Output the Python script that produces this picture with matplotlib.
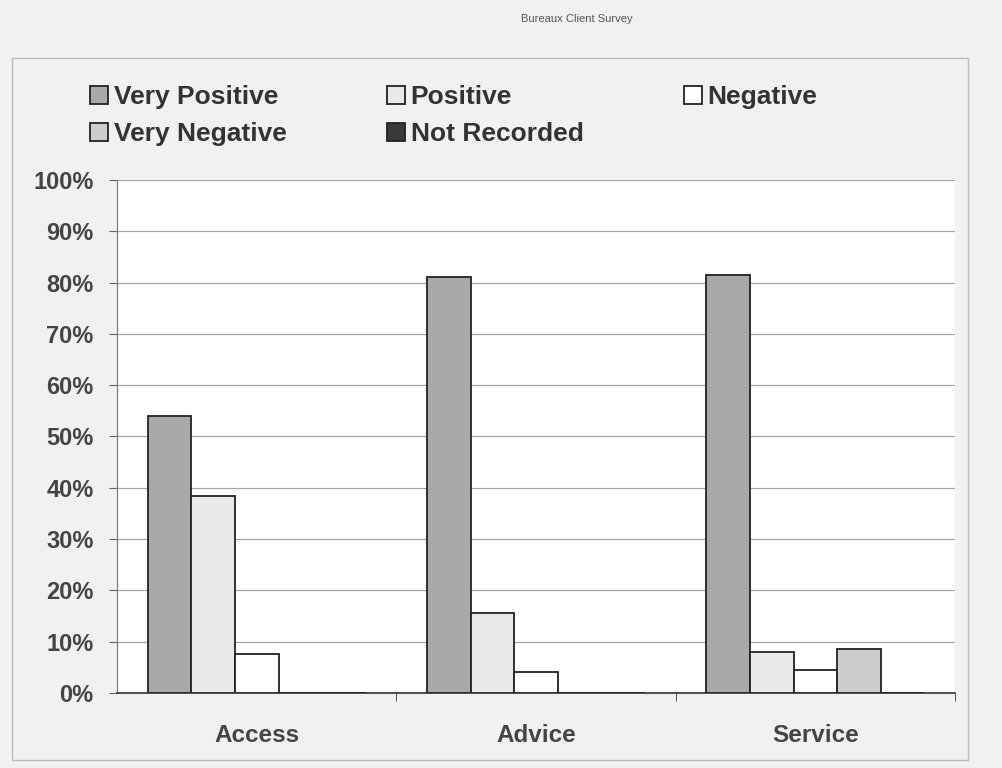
import matplotlib
matplotlib.use('Agg')
import matplotlib.pyplot as plt
import numpy as np

categories = ['Access', 'Advice', 'Service']
series = ['Very Positive', 'Positive', 'Negative', 'Very Negative', 'Not Recorded']
very_positive = [54, 81, 81.5]
positive = [38.3, 15.5, 8]
negative = [7.5, 4, 4.5]
very_negative = [0, 0, 8.5]
not_recorded = [0, 0, 0]
values = [very_positive, positive, negative, very_negative, not_recorded]
colors = ['#a9a9a9', '#e9e9e9', '#ffffff', '#cdcdcd', '#3a3a3a']
yticks = [0, 10, 20, 30, 40, 50, 60, 70, 80, 90, 100]

plt.rcParams['font.family'] = ['Liberation Sans', 'DejaVu Sans']

fig = plt.figure(figsize=(10.03, 7.68), dpi=100, facecolor='#f1f1f1')
ax = fig.add_axes([0.1167, 0.0977, 0.8355, 0.668])
ax.set_facecolor('white')

x = np.arange(len(categories))
w = 0.156
handles = []
for i, vals in enumerate(values):
    b = ax.bar(x + (i - 2) * w, vals, w, color=colors[i], edgecolor='#222222',
               linewidth=1.3, label=series[i], zorder=3)
    handles.append(b)

ax.set_xlim(-0.5, 2.5)
ax.set_ylim(0, 100)
ax.set_yticks(yticks)
ax.set_yticklabels([str(t) + '%' for t in yticks], fontsize=17, fontweight='bold', color='#444444')
ax.yaxis.grid(True, color='#a5a5a5', linewidth=0.9, zorder=0)
ax.set_xticks(x)
ax.set_xticklabels(categories, fontsize=17.5, fontweight='bold', color='#444444')
ax.tick_params(axis='x', length=0, pad=22)
ax.set_xticks([0.5, 1.5, 2.5], minor=True)
ax.tick_params(axis='x', which='minor', length=6, direction='out', color='#333333')
ax.tick_params(axis='y', length=6, direction='out', color='#666666', pad=11)
for s in ['top', 'right']:
    ax.spines[s].set_visible(False)
ax.spines['left'].set_color('#777777')
ax.spines['bottom'].set_color('#333333')
ax.spines['bottom'].set_linewidth(1.2)

order = [0, 3, 1, 4, 2]
fig.legend([handles[i] for i in order], [series[i] for i in order], ncol=3,
           loc='upper left', bbox_to_anchor=(0.066, 0.92), frameon=False,
           prop={'size': 19, 'weight': 'bold'}, labelcolor='#333333',
           handlelength=0.7, handleheight=0.7, handletextpad=0.2,
           columnspacing=3.8, labelspacing=0.5)

fig.text(0.575, 0.975, 'Bureaux Client Survey', fontsize=8, color='#555555', ha='center', va='center')

# outer chart border
fig.patches.append(plt.Rectangle((0.012, 0.01), 0.953, 0.915, transform=fig.transFigure,
                                 fill=False, edgecolor='#bbbbbb', linewidth=1))

plt.savefig('out.png', dpi=100, facecolor=fig.get_facecolor())
